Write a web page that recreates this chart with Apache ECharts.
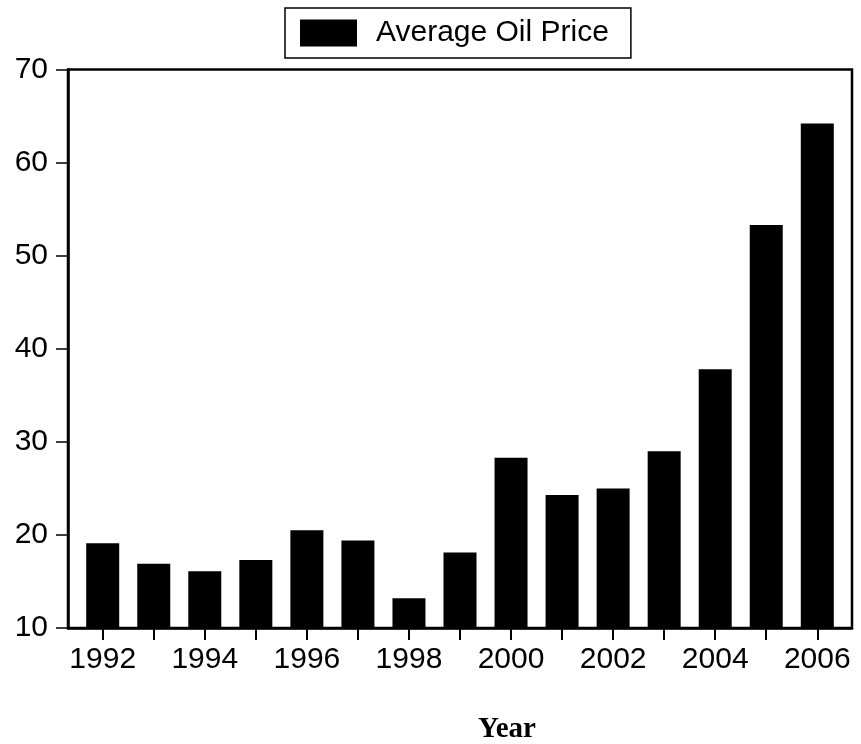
<!DOCTYPE html>
<html>
<head>
<meta charset="utf-8">
<script src="https://cdn.jsdelivr.net/npm/echarts@6/dist/echarts.min.js"></script>
<style>
  html, body { margin: 0; padding: 0; background: #fff; }
  #chart { width: 861px; height: 744px; }
</style>
</head>
<body>
<div id="chart"></div>
<script>
// years on the x axis
const years = [1992, 1993, 1994, 1995, 1996, 1997, 1998, 1999,
  2000, 2001, 2002, 2003, 2004, 2005, 2006]
// every other year gets a label
const yearLabels = [1992, 1994, 1996, 1998, 2000, 2002, 2004, 2006]
// average oil price
const oilPrice = [19.1, 16.9, 16.1, 17.3, 20.5, 19.4, 13.2, 18.1,
  28.3, 24.3, 25.0, 29.0, 37.8, 53.3, 64.2]

const font = 'Liberation Sans, Arial, Helvetica, sans-serif'

const chart = echarts.init(document.getElementById('chart'))

const option = {
  animation: false,
  backgroundColor: '#fff',
  title: {
    text: 'Year',
    left: 473,
    top: 710,
    textStyle: {
      fontFamily: 'Liberation Serif, Times New Roman, serif',
      fontWeight: 'bold',
      fontSize: 29,
      color: '#000'
    }
  },
  legend: {
    left: 285,
    top: 8,
    icon: 'rect',
    itemWidth: 57,
    itemHeight: 27,
    padding: [10, 22, 10, 15],
    borderColor: '#000',
    borderWidth: 1.5,
    textStyle: {
      fontFamily: font,
      fontSize: 30,
      color: '#000',
      padding: [0, 0, 0, 14]
    },
    data: ['Average Oil Price']
  },
  grid: {
    left: 68,
    right: 9,
    top: 69.5,
    bottom: 116,
    show: true,
    borderColor: '#000',
    borderWidth: 2.5
  },
  xAxis: {
    type: 'value',
    min: 1991.32,
    max: 2006.68,
    splitLine: { show: false },
    axisLine: { show: true, lineStyle: { color: '#000', width: 2.5 } },
    axisTick: {
      show: true,
      customValues: years,
      length: 12,
      lineStyle: { color: '#000', width: 2 }
    },
    axisLabel: {
      customValues: yearLabels,
      formatter: v => String(v),
      margin: 17,
      fontFamily: font,
      fontSize: 30,
      color: '#000'
    }
  },
  yAxis: {
    type: 'value',
    min: 10,
    max: 70,
    interval: 10,
    splitLine: { show: false },
    axisLine: { show: true, lineStyle: { color: '#000', width: 2.5 } },
    axisTick: { show: true, length: 12, lineStyle: { color: '#000', width: 1.5 } },
    axisLabel: {
      margin: 20,
      fontFamily: font,
      fontSize: 30,
      color: '#000'
    }
  },
  series: [
    {
      name: 'Average Oil Price',
      type: 'bar',
      barWidth: 33,
      itemStyle: { color: '#000' },
      data: years.map((y, i) => [y, oilPrice[i]])
    }
  ]
}

chart.setOption(option)
</script>
</body>
</html>
